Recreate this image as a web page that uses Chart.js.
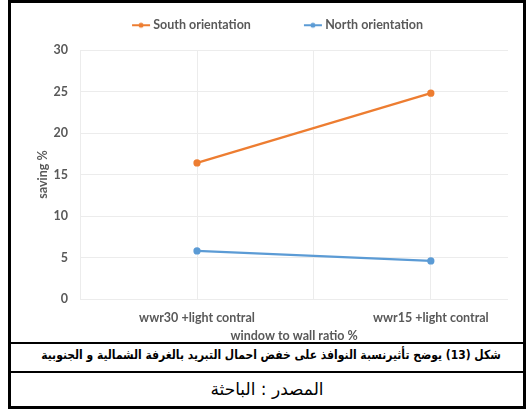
<!DOCTYPE html>
<html lang="ar">
<head>
<meta charset="utf-8">
<title>saving %</title>
<script src="https://cdn.jsdelivr.net/npm/chart.js@4.4.1/dist/chart.umd.min.js"></script>
<style>
  body { margin: 0; background: #fff; width: 527px; height: 409px; position: relative; overflow: hidden; }
  #frame { position: absolute; left: 8px; top: 0; width: 512px; height: 403px; border: 3px solid #000; }
  #chartRow { height: 339px; border-bottom: 2px solid #000; }
  #chartRow canvas { display: block; }
  #caption { position: relative; height: 27px; line-height: 27px; border-bottom: 2px solid #000; white-space: nowrap; color: #000; }
  #caption span { position: absolute; top: 3px; left: calc(50% + 4px); direction: rtl; font: bold 12.5px "DejaVu Sans"; transform: translateX(-50%) scaleX(0.86); }
  #source { height: 27px; padding-top: 6px; line-height: 27px; text-align: center; direction: rtl; font: 17px "DejaVu Sans"; color: #000; }
</style>
</head>
<body>
<div id="frame">
  <div id="chartRow"><canvas id="myChart" width="512" height="339"></canvas></div>
  <div id="caption"><span>شكل (13) يوضح تأثيرنسبة النوافذ على خفض احمال التبريد بالغرفة الشمالية و الجنوبية</span></div>
  <div id="source">المصدر : الباحثة</div>
</div>
<script>
"use strict";

// Chart data
const categories = ["wwr30 +light contral", "wwr15 +light contral"];
const seriesNames = ["South orientation", "North orientation"];
const southValues = [16.4, 24.8];
const northValues = [5.8, 4.6];
const seriesColors = ["#ED7D31", "#5B9BD5"];
const yMax = 30;
const yStep = 5;

const axisGrey = "#595959";
const gridGrey = "#ececec";
const textFont = { size: 12.5, weight: "bold" };

// Excel style legend marker: a short line with a dot in the middle
function legendMarker(color) {
	const c = document.createElement("canvas");
	c.width = 61;
	c.height = 8;
	const g = c.getContext("2d");
	g.strokeStyle = color;
	g.lineWidth = 2;
	g.beginPath();
	g.moveTo(41, 4);
	g.lineTo(59, 4);
	g.stroke();
	g.fillStyle = color;
	g.beginPath();
	g.arc(50, 4, 2.5, 0, Math.PI * 2);
	g.fill();
	return c;
}

// each category sits on x = 1, 2, ...
function toPoints(values) {
	return values.map(function (v, i) {
		return { x: i + 1, y: v };
	});
}

// a bit more room between the legend and the plot
const legendSpacing = {
	id: "legendSpacing",
	beforeInit(chart) {
		const fit = chart.legend.fit;
		chart.legend.fit = function () {
			fit.call(this);
			this.height += 8.5;
		};
	},
};

Chart.defaults.font.family = "Lato";
Chart.defaults.color = axisGrey;

const markers = seriesColors.map(legendMarker);

new Chart(document.getElementById("myChart"), {
	type: "line",
	data: {
		datasets: [
			{
				label: seriesNames[0],
				data: toPoints(southValues),
				borderColor: seriesColors[0],
				backgroundColor: seriesColors[0],
				borderWidth: 2.25,
				pointRadius: 2.5,
			},
			{
				label: seriesNames[1],
				data: toPoints(northValues),
				borderColor: seriesColors[1],
				backgroundColor: seriesColors[1],
				borderWidth: 2.25,
				pointRadius: 2.5,
			},
		],
	},
	options: {
		responsive: false,
		animation: false,
		layout: { padding: { top: -1, left: 0, right: 15, bottom: 1 } },
		plugins: {
			tooltip: { enabled: false },
			legend: {
				position: "top",
				labels: {
					usePointStyle: true,
					pointStyleWidth: 51,
					padding: 17,
					color: axisGrey,
					font: textFont,
					generateLabels(chart) {
						const items = Chart.defaults.plugins.legend.labels.generateLabels(chart);
						items.forEach(function (item, i) {
							item.pointStyle = markers[i];
						});
						return items;
					},
				},
			},
		},
		scales: {
			x: {
				type: "linear",
				min: 0.5,
				max: 2.33,
				border: { display: false },
				grid: {
					drawTicks: false,
					color: function (ctx) {
						return ctx.tick && Number.isInteger(ctx.tick.value * 2) ? gridGrey : "transparent";
					},
				},
				ticks: {
					stepSize: 0.5,
					includeBounds: false,
					autoSkip: false,
					maxRotation: 0,
					minRotation: 0,
					padding: 11,
					font: textFont,
					callback: function (value) {
						return Number.isInteger(value) ? categories[value - 1] : "";
					},
				},
				title: {
					display: true,
					text: "window to wall ratio %",
					color: axisGrey,
					padding: { top: -7.6, bottom: -2.5 },
					font: textFont,
				},
			},
			y: {
				min: 0,
				max: yMax,
				border: { display: false },
				grid: { drawTicks: false, color: gridGrey },
				ticks: {
					stepSize: yStep,
					padding: 12,
					font: textFont,
				},
				title: {
					display: true,
					text: "saving %",
					color: axisGrey,
					padding: { top: 24, bottom: -8.4 },
					font: textFont,
				},
			},
		},
	},
	plugins: [legendSpacing],
});
</script>
</body>
</html>
